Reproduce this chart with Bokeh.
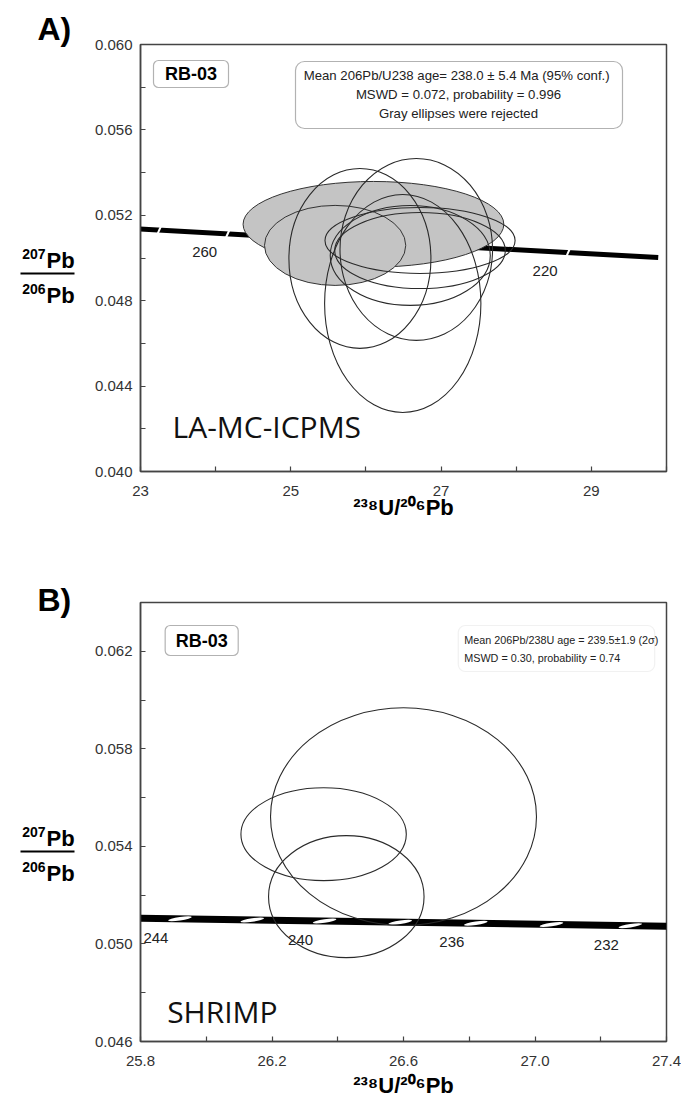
from bokeh.plotting import figure
from bokeh.models import Range1d, FixedTicker, PrintfTickFormatter, Label, BoxAnnotation
from bokeh.layouts import column, row
from bokeh.embed import file_html
from bokeh.resources import INLINE
from bokeh.core.properties import value

# ---------------- data: panel A (LA-MC-ICPMS) ----------------
a_gray_x = [26.10, 25.59]
a_gray_y = [0.05158, 0.05059]
a_gray_w = [3.47, 1.88]
a_gray_h = [0.00401, 0.00375]

a_open_x = [25.92, 26.67, 26.49, 26.72, 26.72, 26.59]
a_open_y = [0.04998, 0.05040, 0.04787, 0.05082, 0.05035, 0.05012]
a_open_w = [1.89, 2.03, 2.08, 2.53, 2.27, 2.13]
a_open_h = [0.00843, 0.00852, 0.01021, 0.00309, 0.00356, 0.00468]

a_conc_x = [22.88, 29.89]
a_conc_y = [0.05138, 0.05002]
a_mark_x = [23.25, 24.16, 28.69]
a_mark_y = [0.05131, 0.05113, 0.05025]
a_mark_label = ["", "260", "220"]

a_xticks = [23, 25, 27, 29]
a_xminor = [24, 26, 28, 30]
a_yticks = [0.040, 0.044, 0.048, 0.052, 0.056, 0.060]
a_yminor = [0.042, 0.046, 0.050, 0.054, 0.058]

# ---------------- data: panel B (SHRIMP) ----------------
b_open_x = [26.60, 26.357, 26.426]
b_open_y = [0.05522, 0.05450, 0.05194]
b_open_w = [0.809, 0.503, 0.473]
b_open_h = [0.00893, 0.00381, 0.00500]

b_conc_x = [25.80, 27.40]
b_conc_y = [0.05105, 0.05073]
b_mark_x = [25.92, 26.14, 26.36, 26.59, 26.82, 27.05, 27.29]
b_mark_y = [0.05103, 0.05098, 0.05094, 0.05089, 0.05085, 0.05080, 0.05075]
b_mark_label = ["244", "", "240", "", "236", "", "232"]

b_xticks = [25.8, 26.2, 26.6, 27.0, 27.4]
b_xminor = [26.0, 26.4, 26.8, 27.2]
b_yticks = [0.046, 0.050, 0.054, 0.058, 0.062]
b_yminor = [0.048, 0.052, 0.056, 0.060, 0.064]

SANS = "Liberation Sans"
OPEN = "Open Sans"
XTITLE = "\u00b2\u00b3\u2078U/\u00b2\u2070\u2076Pb"

# page geometry (the Bokeh page has no body margin)
TOTW, TOTH = 681, 1110
LW = 84          # left strip with panel letters and y titles
MW = TOTW - LW
SPLIT = 560      # boundary between panel A and panel B


def style(p, xt, xm, yt, ym, xfmt, yfmt, title_standoff):
    p.xaxis.ticker = FixedTicker(ticks=xt, minor_ticks=xm)
    p.yaxis.ticker = FixedTicker(ticks=yt, minor_ticks=ym)
    p.xaxis.formatter = PrintfTickFormatter(format=xfmt)
    p.yaxis.formatter = PrintfTickFormatter(format=yfmt)
    for ax in (p.xaxis[0], p.yaxis[0]):
        ax.axis_line_color = "#444"
        ax.axis_line_width = 1.5
        ax.major_tick_line_color = "#444"
        ax.minor_tick_line_color = "#444"
        ax.major_tick_line_width = 1.2
        ax.minor_tick_line_width = 1.2
        ax.major_tick_in = 5
        ax.major_tick_out = 0
        ax.minor_tick_in = 5
        ax.minor_tick_out = 0
        ax.major_label_text_font = SANS
        ax.major_label_text_font_size = "15px"
        ax.major_label_text_color = "#333"
    p.xaxis.major_label_standoff = 14
    p.yaxis.major_label_standoff = 8
    p.xaxis.axis_label = XTITLE
    p.xaxis.axis_label_text_font = SANS
    p.xaxis.axis_label_text_font_size = "22px"
    p.xaxis.axis_label_text_font_style = "bold"
    p.xaxis.axis_label_text_color = "black"
    p.xaxis.axis_label_standoff = title_standoff
    p.grid.visible = False
    p.outline_line_color = "#444"
    p.outline_line_width = 1.5
    p.background_fill_color = "white"
    p.border_fill_color = "white"


def lab(p, fx, fy, X, Y, text, size, bold=False, align="left", font=SANS, color="black"):
    p.add_layout(Label(x=fx(X), y=fy(Y), text=text, text_font=font,
                       text_font_size=f"{size}px",
                       text_font_style="bold" if bold else "normal",
                       text_align=align, text_baseline="middle",
                       text_color=color))


def rbox(p, fx, fy, X0, X1, Y0, Y1, radius, color="black"):
    p.add_layout(BoxAnnotation(left=fx(X0), right=fx(X1), top=fy(Y0), bottom=fy(Y1),
                               fill_color="white", fill_alpha=1.0,
                               line_color=color, line_width=1.2,
                               border_radius=radius))


# ---------------- left strip ----------------
left = figure(width=LW, height=TOTH, x_range=Range1d(0, LW), y_range=Range1d(TOTH, 0),
              output_backend="svg", toolbar_location=None,
              x_axis_type=None, y_axis_type=None, min_border=0)
left.outline_line_color = None
left.background_fill_color = "white"
left.border_fill_color = "white"


def ltext(X, Y, txt, size, align="left"):
    left.text(x=[X], y=[Y], text=[txt], text_font=value(SANS),
              text_font_size=f"{size}px", text_font_style="bold",
              text_align=align, text_baseline="middle", text_color="black")


def fraction(Ybar):
    ltext(45, Ybar - 20, "207", 14, align="right")
    ltext(46, Ybar - 13, "Pb", 22)
    left.segment(x0=[20], y0=[Ybar], x1=[74], y1=[Ybar], line_width=2, line_color="black")
    ltext(45, Ybar + 15, "206", 14, align="right")
    ltext(46, Ybar + 22, "Pb", 22)


ltext(37, 28, "A)", 32)
ltext(37, 599, "B)", 32)
fraction(273)
fraction(851)

# ================= Panel A =================
A_L, A_R, A_T, A_B = 140, 666, 44, 471


def ax_(X):
    return 23 + (X - A_L) / (A_R - A_L) * 7


def ay_(Y):
    return 0.060 - (Y - A_T) / (A_B - A_T) * 0.020


pA = figure(width=MW, height=SPLIT, x_range=Range1d(23, 30), y_range=Range1d(0.040, 0.060),
            output_backend="svg", toolbar_location=None,
            min_border_left=A_L - LW, min_border_right=TOTW - A_R,
            min_border_top=A_T, min_border_bottom=SPLIT - A_B)
style(pA, a_xticks, a_xminor, a_yticks, a_yminor, "%d", "%.3f", -4)

pA.line(a_conc_x, a_conc_y, line_width=5, color="black")
pA.scatter(a_mark_x, a_mark_y, marker="dash", size=8, angle=1.15,
           line_color="white", line_width=2)
pA.ellipse(x=a_gray_x, y=a_gray_y, width=a_gray_w, height=a_gray_h,
           fill_color="#c4c4c4", line_color="#333", line_width=1)
pA.ellipse(x=a_open_x, y=a_open_y, width=a_open_w, height=a_open_h,
           fill_color=None, line_color="#2a2a2a", line_width=1.1)
la = [i for i, t in enumerate(a_mark_label) if t]
pA.text(x=[a_mark_x[i] for i in la], y=[a_mark_y[i] for i in la],
        text=[a_mark_label[i] for i in la], x_offset=-23, y_offset=18,
        text_align="center", text_baseline="middle",
        text_font=value(SANS), text_font_size="15px", text_color="#222")

rbox(pA, ax_, ay_, 153, 228, 60, 87, 5)
lab(pA, ax_, ay_, 190.5, 73.5, "RB-03", 18, bold=True, align="center")
rbox(pA, ax_, ay_, 295, 622, 61, 128, 9)
for txt, yy in [("Mean 206Pb/U238 age= 238.0 ± 5.4  Ma (95% conf.)", 75),
                ("MSWD = 0.072, probability = 0.996", 94),
                ("Gray ellipses were rejected", 113)]:
    lab(pA, ax_, ay_, 458, yy, txt, 13.2, align="center", color="#222")
lab(pA, ax_, ay_, 172, 426, "LA-MC-ICPMS", 30, font=OPEN, color="#111")

# ================= Panel B =================
B_L, B_R, B_T, B_B = 133, 666, 602, 1041


def bx_(X):
    return 25.8 + (X - B_L) / (B_R - B_L) * 1.6


def by_(Y):
    return 0.064 - (Y - B_T) / (B_B - B_T) * 0.018


pB = figure(width=MW, height=TOTH - SPLIT, x_range=Range1d(25.8, 27.4),
            y_range=Range1d(0.046, 0.064),
            output_backend="svg", toolbar_location=None,
            min_border_left=B_L - LW, min_border_right=TOTW - B_R,
            min_border_top=B_T - SPLIT, min_border_bottom=TOTH - B_B)
style(pB, b_xticks, b_xminor, b_yticks, b_yminor, "%.1f", "%.3f", 4)

pB.line(b_conc_x, b_conc_y, line_width=7, color="black")
pB.ellipse(x=b_mark_x, y=b_mark_y, width=24, height=3.5, width_units="screen",
           height_units="screen", angle=0.15, fill_color="white", line_color=None)
pB.ellipse(x=b_open_x, y=b_open_y, width=b_open_w, height=b_open_h,
           fill_color=None, line_color="#2a2a2a", line_width=1.1)
lb = [i for i, t in enumerate(b_mark_label) if t]
pB.text(x=[b_mark_x[i] for i in lb], y=[b_mark_y[i] for i in lb],
        text=[b_mark_label[i] for i in lb], x_offset=-24, y_offset=19,
        text_align="center", text_baseline="middle",
        text_font=value(SANS), text_font_size="15px", text_color="#222")

rbox(pB, bx_, by_, 158, 232, 625, 655, 5)
lab(pB, bx_, by_, 195, 640, "RB-03", 18, bold=True, align="center")
rbox(pB, bx_, by_, 455, 654, 625, 671, 7, color="#d0d0d0")
lab(pB, bx_, by_, 461, 639, "Mean 206Pb/238U age = 239.5±1.9 (2σ)", 10.8, color="#222")
lab(pB, bx_, by_, 461, 657, "MSWD = 0.30, probability = 0.74", 10.8, color="#222")
lab(pB, bx_, by_, 160, 1011, "SHRIMP", 30, font=OPEN, color="#111")

layout = row(left, column(pA, pB))
open("out.html", "w").write(file_html(layout, INLINE))
